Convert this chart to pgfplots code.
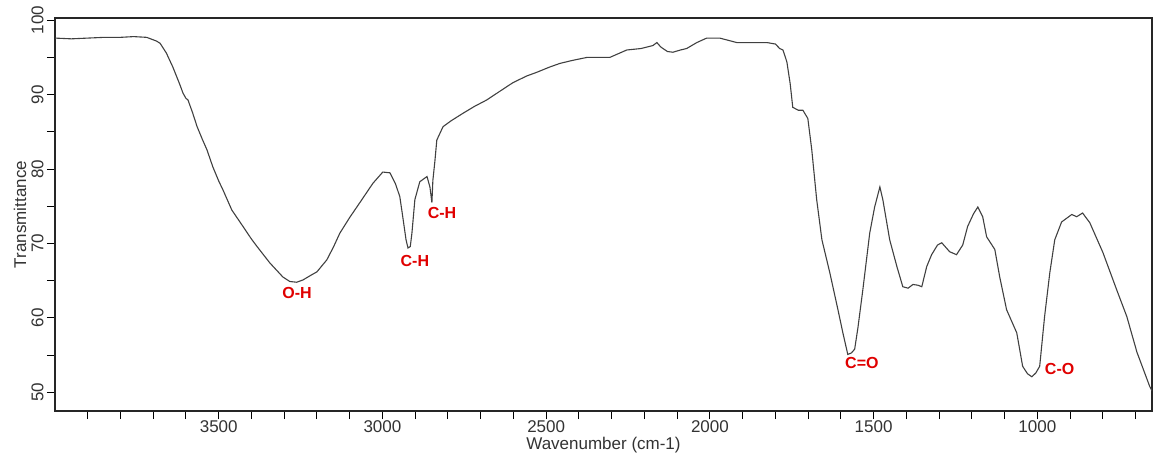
\documentclass[border=0pt]{standalone}
\usepackage{fontspec}
\setmainfont{Liberation Sans}
\usepackage{pgfplots}
\pgfplotsset{compat=1.18}
\usepackage{pgfplotstable}

% IR spectrum (wavenumber, transmittance)
\pgfplotstableread{
w T
4000 97.6
3950 97.5
3900 97.6
3850 97.7
3800 97.7
3760 97.8
3720 97.7
3690 97.2
3679 96.9
3660 95.6
3640 93.7
3620 91.5
3609 90.2
3600 89.5
3594 89.3
3580 87.6
3566 85.7
3550 84.0
3536 82.6
3518 80.3
3500 78.4
3487 77.2
3460 74.5
3426 72.3
3400 70.6
3383 69.6
3344 67.4
3304 65.5
3283 64.9
3262 64.8
3243 65.1
3220 65.7
3200 66.2
3170 67.8
3150 69.5
3130 71.4
3100 73.5
3069 75.5
3029 78.1
2999 79.6
2977 79.5
2960 78.0
2947 76.3
2938 73.6
2928 70.5
2922 69.4
2915 69.6
2910 71.4
2901 75.9
2886 78.3
2864 79.0
2855 77.6
2849 75.5
2846 78.5
2840 81.0
2834 83.9
2815 85.7
2790 86.5
2754 87.5
2720 88.4
2681 89.3
2640 90.5
2602 91.6
2560 92.5
2529 93.0
2490 93.7
2458 94.2
2420 94.6
2376 95.0
2340 95.0
2306 95.0
2280 95.5
2254 96.0
2210 96.2
2174 96.6
2162 97.0
2150 96.4
2130 95.8
2113 95.7
2090 96.0
2071 96.2
2040 97.0
2010 97.6
1970 97.6
1918 97.0
1870 97.0
1826 97.0
1800 96.8
1787 96.2
1777 96.0
1765 94.4
1755 91.5
1747 88.3
1730 87.9
1716 87.9
1701 86.8
1689 82.6
1674 75.9
1658 70.5
1634 66.1
1609 61.1
1594 58.0
1579 55.1
1568 55.3
1558 55.8
1548 58.7
1533 63.8
1512 71.4
1497 74.9
1481 77.6
1472 75.9
1451 70.5
1429 66.9
1411 64.2
1395 64.0
1380 64.5
1365 64.4
1353 64.2
1338 66.9
1323 68.5
1305 69.8
1292 70.1
1268 68.9
1247 68.5
1228 69.8
1213 72.3
1195 74.0
1182 74.9
1167 73.6
1155 70.9
1130 69.2
1115 65.5
1094 61.1
1063 58.0
1045 53.5
1030 52.5
1017 52.1
1005 52.6
993 53.5
978 60.2
962 66.1
947 70.5
926 72.9
895 73.9
880 73.6
862 74.1
840 72.8
800 68.8
758 63.8
727 60.2
696 55.4
657 50.8
650 50.2
}\spectrum

\definecolor{txt}{HTML}{333333}
\definecolor{band}{HTML}{E00000}

\begin{document}
\begin{tikzpicture}
\begin{axis}[
    scale only axis,
    width=548.5pt, height=196.5pt,
    x dir=reverse,
    xmin=650, xmax=4000,
    ymin=47.5, ymax=100.3,
    xtick={1000,1500,2000,2500,3000,3500},
    minor xtick={700,800,...,3900},
    ytick={50,60,...,100},
    minor ytick={55,65,75,85,95},
    tick align=outside,
    xtick pos=bottom, ytick pos=left,
    major tick length=4pt, minor tick length=4pt,
    tick style={line width=0.5pt, black},
    axis line style={line width=0.6pt, black!85},
    /pgf/number format/assume math mode=true,
    /pgf/number format/1000 sep={},
    ticklabel style={font=\fontsize{8.5}{10}\selectfont, text=txt},
    xticklabel style={inner sep=0.5pt},
    yticklabel style={rotate=90, anchor=south, inner sep=1.5pt},
    xlabel={Wavenumber (cm-1)},
    ylabel={Transmittance},
    label style={font=\fontsize{8.5}{10}\selectfont, text=txt},
    xlabel style={at={(axis description cs:0.5,0)}, anchor=center, yshift=-17pt},
    ylabel style={at={(axis description cs:0,0.5)}, anchor=center, yshift=17.5pt},
]
\addplot[line width=0.55pt, black!75] table[x=w, y=T] {\spectrum};

\coordinate (sw) at (rel axis cs:0,0);
\coordinate (ne) at (rel axis cs:1,1);

\begin{scope}[every node/.style={font=\bfseries\fontsize{8}{9}\selectfont, text=band}]
\node at (axis cs:3261,63.3) {O-H};
\node at (axis cs:2901,67.6) {C-H};
\node at (axis cs:2818,74.1) {C-H};
\node at (axis cs:1536,54.0) {C=O};
\node at (axis cs:932,53.2) {C-O};
\end{scope}
\end{axis}
\pgfresetboundingbox
\path[use as bounding box] ([xshift=-27.5pt,yshift=-22pt]sw) rectangle ([xshift=1pt,yshift=9pt]ne);
\end{tikzpicture}
\end{document}
